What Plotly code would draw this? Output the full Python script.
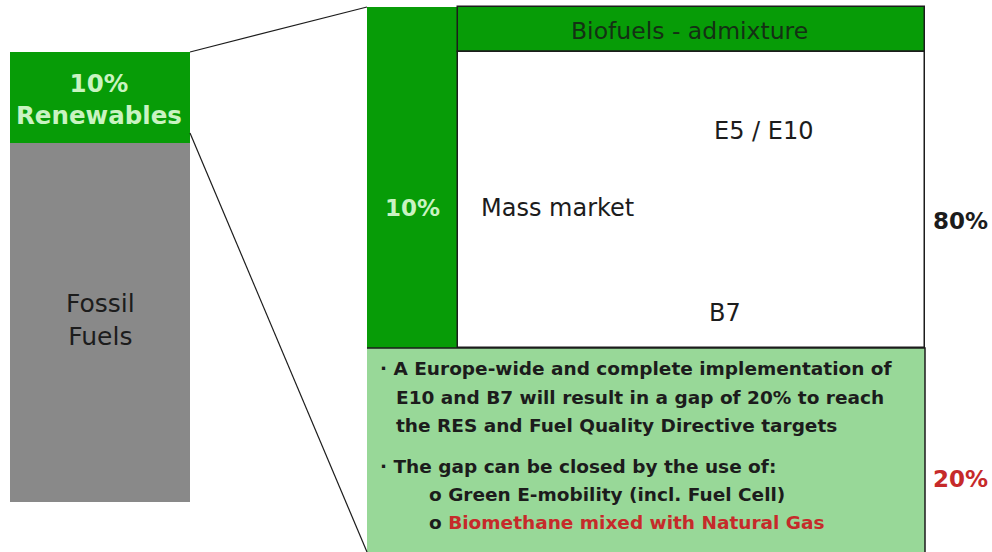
import plotly.graph_objects as go

# ---------------- data ----------------
mix_labels = ["10%<br>Renewables", "Fossil<br>Fuels"]
mix_share = [10, 90]
bio_share_label = "10%"
header_label = "Biofuels - admixture"
mass_label = "Mass market"
blend_labels = ["E5 / E10", "B7"]
split_labels = ["80%", "20%"]
gap_lines = [
    "· A Europe-wide and complete implementation of",
    "E10 and B7 will result in a gap of 20% to reach",
    "the RES and Fuel Quality Directive targets",
    "· The gap can be closed by the use of:",
    "o Green E-mobility (incl. Fuel Cell)",
    "o <span style='color:#c62a2a'>Biomethane mixed with Natural Gas</span>",
]

# ---------------- styles / layout geometry (pixel canvas) ----------------
W, H = 992, 552
GREEN = "#079c07"
GRAY = "#898989"
LIGHT = "#98d898"
PALE = "#c9f3c1"
DARK = "#1c1c1c"
RED = "#c62a2a"
FONT = "DejaVu Sans"

# boxes: (x0, x1, y0, y1, fill, border)
boxes = [
    (10, 190, 52, 143, GREEN, None),      # renewables
    (10, 190, 143, 502, GRAY, None),      # fossil
    (367, 458, 7, 348, GREEN, None),      # biofuel column
    (367, 925, 348, 560, LIGHT, None),    # gap box
    (458, 925, 7, 52, GREEN, DARK),       # header
    (458, 925, 52, 348, "white", DARK),   # mass market
]

fig = go.Figure()
for x0, x1, y0, y1, fill, border in boxes:
    fig.add_trace(go.Bar(
        x=[(x0 + x1) / 2], y=[y1 - y0], base=[y0], width=[x1 - x0],
        marker=dict(color=fill,
                    line=dict(color=border or fill, width=1.5 if border else 0)),
        hoverinfo="skip", showlegend=False))

# border lines of gap box and connectors
lines = [
    ([367, 925, 925], [348, 348, 560], DARK, 1.5),
    ([190, 367], [52, 7], DARK, 1.2),
    ([190, 367], [133, 552], DARK, 1.2),
]
for xs, ys, c, w in lines:
    fig.add_trace(go.Scatter(x=xs, y=ys, mode="lines",
                             line=dict(color=c, width=w),
                             hoverinfo="skip", showlegend=False))

ann = []
def add(text, x, y, size, color, bold=False, xanchor="center"):
    t = f"<b>{text}</b>" if bold else text
    ann.append(dict(text=t, x=x, y=y, xref="x", yref="y", showarrow=False,
                    xanchor=xanchor, yanchor="middle",
                    font=dict(family=FONT, size=size, color=color)))

# left bar
add(mix_labels[0], 99, 99, 24.5, PALE, bold=True)
add(mix_labels[1], 100, 320, 25, DARK)
# right panel
add(header_label, 689, 31, 23.5, "#143014")
add(bio_share_label, 412, 208, 23, PALE, bold=True)
add(mass_label, 479, 208, 24, DARK, xanchor="left")
add(blend_labels[0], 763, 131, 24, DARK)
add(blend_labels[1], 725, 313, 24, DARK)
add(split_labels[0], 960, 221, 23, DARK, bold=True)
add(split_labels[1], 960, 479, 23, RED, bold=True)

gap_y = [368, 397, 425, 466, 494, 522]
gap_x = [378, 394, 394, 378, 427, 427]
for t, x, y in zip(gap_lines, gap_x, gap_y):
    add(t, x, y, 18.5, DARK, bold=True, xanchor="left")

fig.update_layout(
    width=W, height=H, margin=dict(l=0, r=0, t=0, b=0),
    paper_bgcolor="white", plot_bgcolor="white",
    barmode="overlay", bargap=0,
    xaxis=dict(range=[0, W], visible=False, fixedrange=True),
    yaxis=dict(range=[H, 0], visible=False, fixedrange=True),
    annotations=ann,
)

fig.write_html("out.html", config={"displayModeBar": False},
               post_script="document.body.style.margin='0';document.body.style.overflow='hidden';")
